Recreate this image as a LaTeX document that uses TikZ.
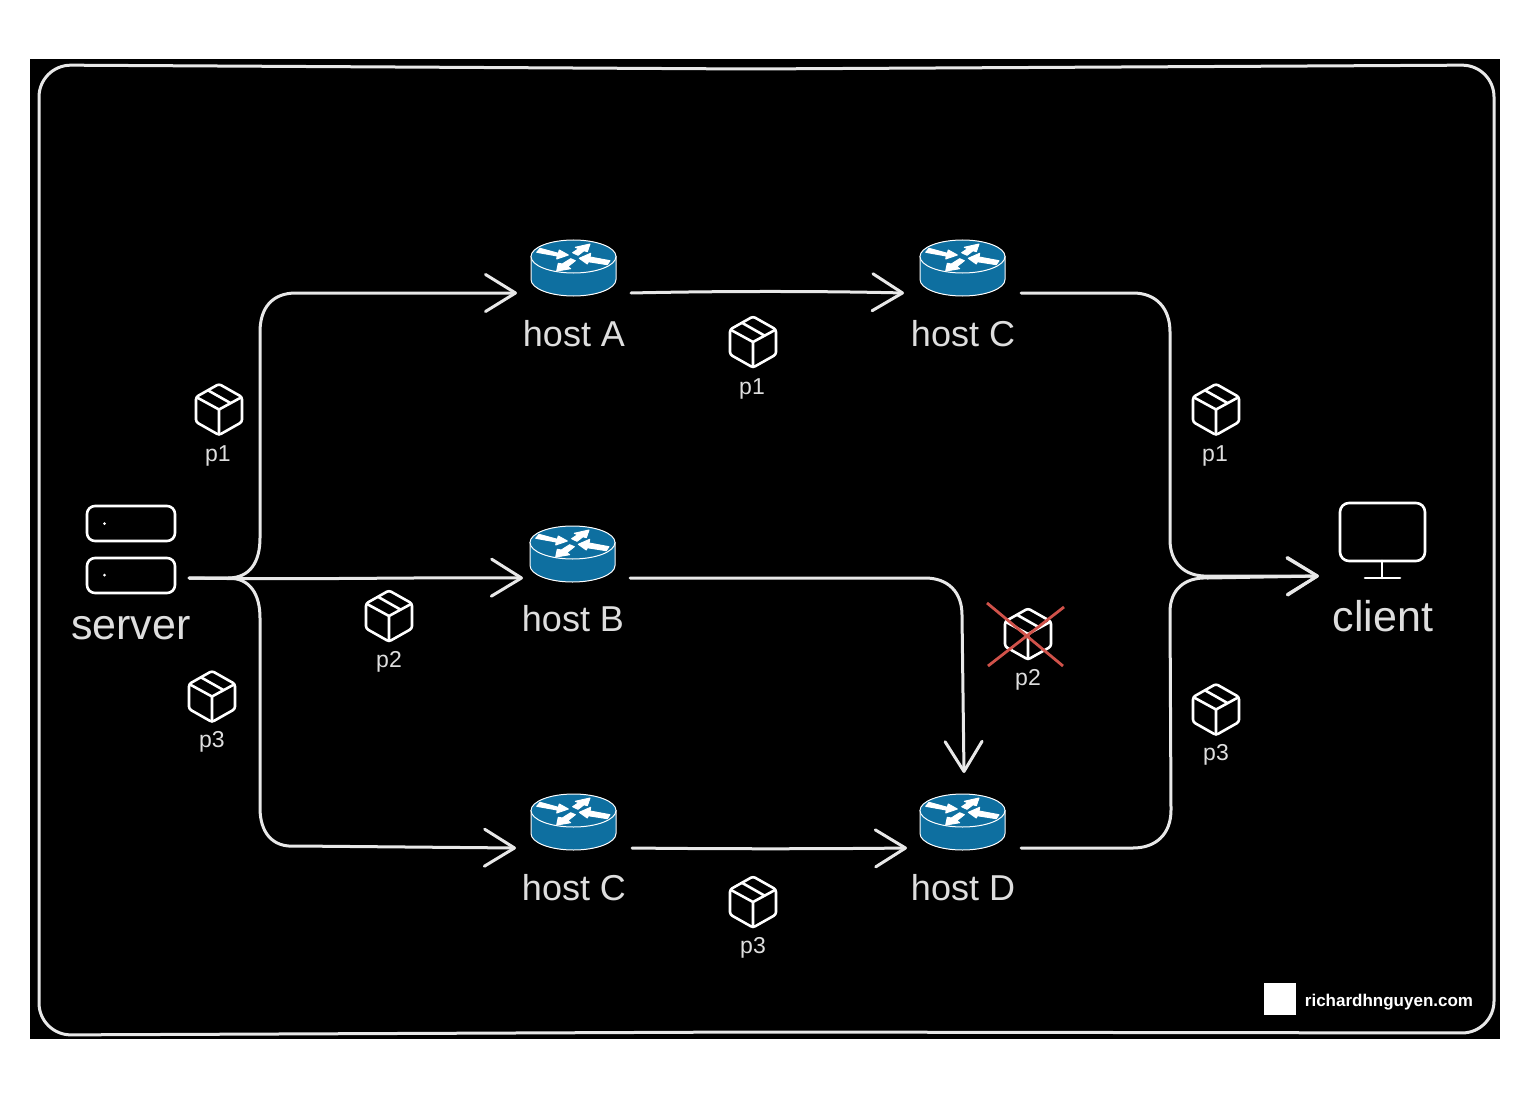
\documentclass[tikz,border=0pt]{standalone}
\usepackage{fontspec}
\setmainfont{Liberation Sans}
\usetikzlibrary{arrows.meta}
\definecolor{routerblue}{RGB}{14, 111, 160}
\definecolor{flowgrey}{RGB}{232, 232, 232}
\definecolor{labelgrey}{RGB}{222, 222, 222}
\definecolor{crossred}{RGB}{208, 82, 74}
\tikzset{
    flow/.style = {draw = flowgrey, line width = 3pt, line cap = round, line join = round},
    flowarrow/.style = {flow, -{Straight Barb[length = 30pt, width = 37pt, round]}},
    hostbox/.style = {minimum width = 114pt, minimum height = 110pt, inner sep = 0pt, outer sep = 0pt},
    hostlabel/.style = {text = labelgrey, font = \fontsize{36}{36}\selectfont},
    endlabel/.style = {text = labelgrey, font = \fontsize{43}{43}\selectfont},
    parcellabel/.style = {text = labelgrey, font = \fontsize{23}{23}\selectfont},
    icon/.style = {draw = white, line width = 2.6pt, line join = round, line cap = round},
    routerarrow/.style = {fill = white, draw = white, line width = 1pt, line join = round},
    router/.pic = {
        \filldraw[fill = routerblue, draw = white, line width = 1pt]
            (-42.5, -11.5) -- (-42.5, 11.5)
            arc[start angle = 180, end angle = 0, x radius = 42.5, y radius = 16.5]
            -- (42.5, -11.5) -- cycle;
        \filldraw[fill = routerblue, draw = white, line width = 1pt]
            (0, -11.5) ellipse[x radius = 42.5, y radius = 16.5];
        \path[routerarrow]
            (-36.8, -15.7) -- (-33.5, -19.7) -- (-15.2, -14.7) -- (-14.2, -18)
            -- (-5.2, -13) -- (-16.8, -9) -- (-16.2, -12) -- cycle;
        \path[routerarrow]
            (-0.8, -15.3) -- (5.2, -19.3) -- (1.8, -20.7) -- (16.5, -24)
            -- (13.8, -16.3) -- (10.5, -17.3) -- (4.5, -12.7) -- cycle;
        \path[routerarrow]
            (5.8, -9.7) -- (17.2, -14.7) -- (16.5, -11) -- (36.5, -7.3)
            -- (33.8, -3.3) -- (14.8, -6.3) -- (13.8, -4) -- cycle;
        \path[routerarrow]
            (-16.8, 3) -- (-15.2, -4.7) -- (-11.2, -4) -- (-2.8, -9.3)
            -- (1.8, -7.3) -- (-5.8, -1.3) -- (-2.8, 0.7) -- cycle;
    },
    parcel/.pic = {
        \draw[icon, rounded corners = 2.5pt]
            (0, -25.5) -- (23, -12.5) -- (23, 12.5) -- (0, 25.5)
            -- (-23, 12.5) -- (-23, -12.5) -- cycle;
        \draw[icon]
            (-22, -12) -- (0, 0) -- (22, -12)
            (0, 0) -- (0, 25)
            (-10.7, -19) -- (11, -6.7);
    }
}
\begin{document}
\begin{tikzpicture}[x = 1pt, y = -1pt]
    \useasboundingbox (0, 0) rectangle (1530, 1099);
    \fill[white] (0, 0) rectangle (1530, 1099);
    \fill[black] (30, 59) rectangle (1500, 1039);
    \draw[flow, rounded corners = 32pt]
        (750, 69) -- (1494, 65) -- (1494, 1033) -- (750, 1032)
        -- (39, 1035) -- (39, 65) -- cycle;

    \node[minimum width = 116pt, minimum height = 144pt, inner sep = 0pt] (server) at (131, 578) {};
        \draw[icon, rounded corners = 8pt] (87, 506) rectangle (175, 541);
        \draw[icon, rounded corners = 8pt] (87, 558) rectangle (175, 593);
        \fill[white] (104.5, 523.5) circle[radius = 1.5];
        \fill[white] (104.5, 575) circle[radius = 1.5];
        \node[endlabel] (serverlabel) at (131, 628) {server};

    \node[minimum width = 126pt, minimum height = 146pt, inner sep = 0pt] (client) at (1382, 576) {};
        \draw[icon, rounded corners = 9pt] (1340, 503) rectangle (1425, 561);
        \draw[icon]
            (1382, 561) -- (1382, 578)
            (1365, 578) -- (1400, 578);
        \node[endlabel] (clientlabel) at (1383, 616) {client};

    \node[hostbox] (hostA) at (574, 293) {};
        \pic at (573.5, 268) {router};
        \node[hostlabel] (hostAlabel) at (574, 334) {host A};
    \node[hostbox, minimum width = 117pt] (hostC) at (962.5, 293) {};
        \pic at (962.5, 268) {router};
        \node[hostlabel] (hostClabel) at (963, 334) {host C};
    \node[hostbox, minimum width = 107pt] (hostB) at (576.5, 578) {};
        \pic at (572.5, 554) {router};
        \node[hostlabel] (hostBlabel) at (573, 619) {host B};
    \node[hostbox, minimum width = 116pt] (hostE) at (574, 848) {};
        \pic at (573.5, 822) {router};
        \node[hostlabel] (hostElabel) at (574, 888) {host C};
    \node[hostbox, minimum height = 150pt] (hostD) at (964, 848) {};
        \pic at (962.5, 822) {router};
        \node[hostlabel] (hostDlabel) at (963, 888) {host D};

    \draw[flowarrow]
        (server.east) -- (228, 578)
        .. controls (250, 578) and (260, 562) .. (260, 538)
        -- (260, 332)
        .. controls (260, 308) and (272, 293) .. (296, 293)
        -- (hostA.west);
    \draw[flowarrow]
        (server.east) .. controls (300, 580) and (420, 577) .. (hostB.west);
    \draw[flowarrow]
        (server.east) -- (228, 578)
        .. controls (250, 578) and (260, 594) .. (260, 618)
        -- (260, 808)
        .. controls (260, 832) and (272, 848) .. (296, 846)
        -- (hostE.west);
    \draw[flowarrow]
        (hostA.east) .. controls (720, 291) and (820, 291) .. (hostC.west);
    \draw[flowarrow]
        (hostE.east) .. controls (720, 849) and (820, 849) .. (hostD.west);
    \draw[flowarrow]
        (hostB.east) -- (925, 578)
        .. controls (948, 578) and (962, 592) .. (962, 615)
        -- (hostD.north);
    \draw[flowarrow]
        (hostC.east) -- (1133, 293)
        .. controls (1156, 293) and (1170, 308) .. (1170, 332)
        -- (1170, 540)
        .. controls (1170, 562) and (1184, 577) .. (1208, 576)
        -- (client.west);
    \draw[flowarrow]
        (hostD.east) -- (1133, 848)
        .. controls (1156, 848) and (1171, 834) .. (1171, 810)
        -- (1170, 612)
        .. controls (1170, 590) and (1184, 577) .. (1208, 578)
        -- (client.west);

    \pic at (219, 409.5) {parcel};
    \node[parcellabel] (p1left) at (218, 455.5) {p1};
    \pic at (753, 342) {parcel};
    \node[parcellabel] (p1top) at (752, 388.5) {p1};
    \pic at (1216, 409.5) {parcel};
    \node[parcellabel] (p1right) at (1215, 455.5) {p1};
    \pic at (389, 616) {parcel};
    \node[parcellabel] (p2left) at (389, 662) {p2};
    \pic at (1028, 634) {parcel};
    \node[parcellabel] (p2right) at (1028, 679.5) {p2};
    \pic at (212, 696.5) {parcel};
    \node[parcellabel] (p3left) at (212, 742) {p3};
    \pic at (1216, 709.5) {parcel};
    \node[parcellabel] (p3right) at (1216, 755) {p3};
    \pic at (753, 902) {parcel};
    \node[parcellabel] (p3bottom) at (753, 947.5) {p3};

    \draw[crossred, line width = 2.8pt]
        (987, 603) -- (1063, 666)
        (1064, 607) -- (988, 666);

    \fill[white] (1264, 983) rectangle (1296, 1015);
    \node[text = white, font = \fontsize{17}{17}\selectfont\bfseries] (site) at (1389, 1002.5) {richardhnguyen.com};
\end{tikzpicture}
\end{document}
